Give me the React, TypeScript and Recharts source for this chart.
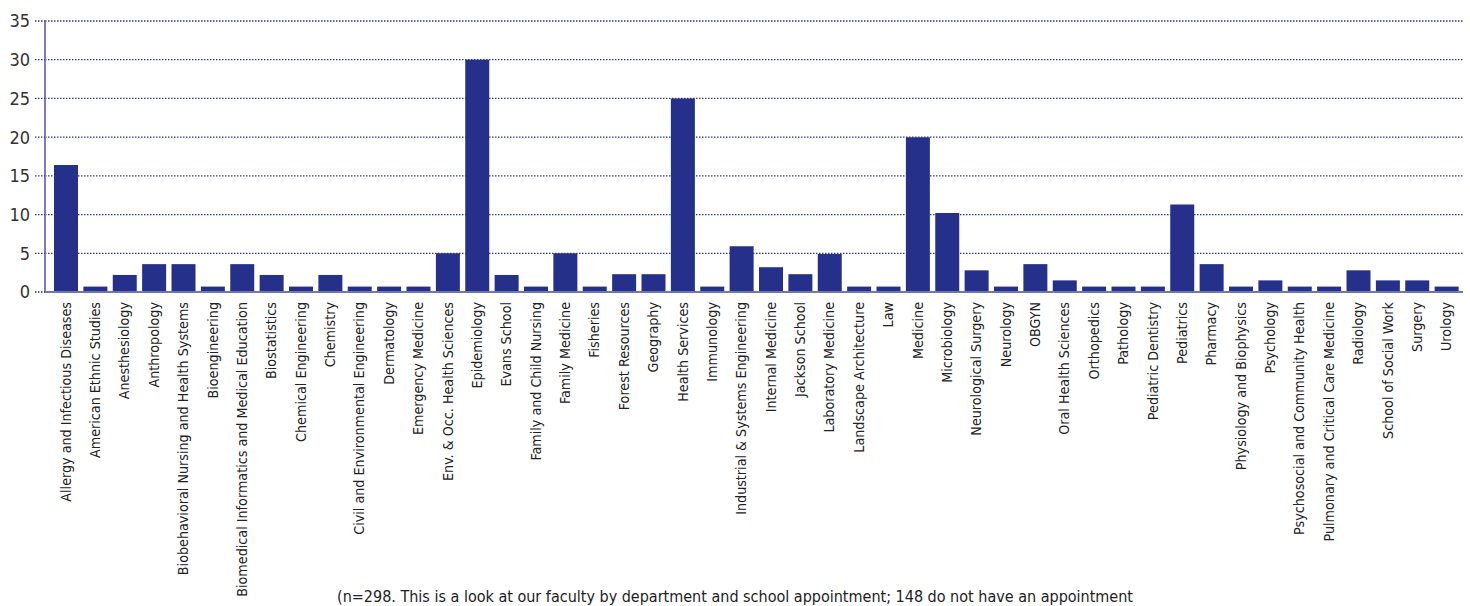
import React from "react";
import { Bar, BarChart, CartesianGrid, XAxis, YAxis } from "recharts";

const departments = [
  "Allergy and Infectious Diseases",
  "American Ethnic Studies",
  "Anesthesiology",
  "Anthropology",
  "Biobehavioral Nursing and Health Systems",
  "Bioengineering",
  "Biomedical Informatics and Medical Education",
  "Biostatistics",
  "Chemical Engineering",
  "Chemistry",
  "Civil and Environmental Engineering",
  "Dermatology",
  "Emergency Medicine",
  "Env. & Occ. Health Sciences",
  "Epidemiology",
  "Evans School",
  "Family and Child Nursing",
  "Family Medicine",
  "Fisheries",
  "Forest Resources",
  "Geography",
  "Health Services",
  "Immunology",
  "Industrial & Systems Engineering",
  "Internal Medicine",
  "Jackson School",
  "Laboratory Medicine",
  "Landscape Architecture",
  "Law",
  "Medicine",
  "Microbiology",
  "Neurological Surgery",
  "Neurology",
  "OBGYN",
  "Oral Health Sciences",
  "Orthopedics",
  "Pathology",
  "Pediatric Dentistry",
  "Pediatrics",
  "Pharmacy",
  "Physiology and Biophysics",
  "Psychology",
  "Psychosocial and Community Health",
  "Pulmonary and Critical Care Medicine",
  "Radiology",
  "School of Social Work",
  "Surgery",
  "Urology",
];

const values = [
  16.4, 0.7, 2.2, 3.6, 3.6, 0.7, 3.6, 2.2, 0.7, 2.2, 0.7, 0.7, 0.7, 5.0, 30.0, 2.2,
  0.7, 5.0, 0.7, 2.3, 2.3, 25.0, 0.7, 5.9, 3.2, 2.3, 4.9, 0.7, 0.7, 20.0, 10.2, 2.8,
  0.7, 3.6, 1.5, 0.7, 0.7, 0.7, 11.3, 3.6, 0.7, 1.5, 0.7, 0.7, 2.8, 1.5, 1.5, 0.7,
];

const yTicks = [0, 5, 10, 15, 20, 25, 30, 35];

const caption =
  "(n=298. This is a look at our faculty by department and school appointment; 148 do not have an appointment";

const data = departments.map((name, i) => ({ name, value: values[i] }));

const font = "'DejaVu Sans Condensed', 'Liberation Sans', sans-serif";

function DeptTick(props: any) {
  const { x, y, payload } = props;
  return (
    <g transform={`translate(${x},${y})`}>
      <text
        x={0}
        y={0}
        dy="0.35em"
        textAnchor="end"
        transform="rotate(-90)"
        fill="#222"
        fontSize={14.2}
        fontFamily={font}
      >
        {payload.value}
      </text>
    </g>
  );
}

export default function App() {
  return (
    <div style={{ position: "absolute", left: 0, top: 0, width: 1470, height: 606, background: "#fff", overflow: "hidden" }}>
      <BarChart
        width={1470}
        height={606}
        data={data}
        margin={{ top: 21, right: 7, bottom: 0, left: 0 }}
      >
        <CartesianGrid
          vertical={false}
          stroke="#2e3992"
          strokeDasharray="1.5 1.5"
          strokeWidth={1.3}
        />
        <XAxis
          dataKey="name"
          interval={0}
          height={314}
          padding={{ left: 6, right: 2 }}
          axisLine={{ stroke: "#6f75b5", strokeWidth: 2 }}
          tickLine={false}
          tickSize={8}
          tickMargin={2}
          tick={<DeptTick />}
        />
        <YAxis
          width={45}
          domain={[0, 35]}
          ticks={yTicks}
          interval={0}
          axisLine={{ stroke: "#7a7fb9", strokeWidth: 2 }}
          tickLine={{ stroke: "#2e3992", strokeDasharray: "1.5 1.5", strokeWidth: 1.3 }}
          tickSize={10}
          tickMargin={5}
          tick={{ fill: "#333", fontSize: 18, fontFamily: font }}
        />
        <Bar dataKey="value" fill="#24308a" barSize={24} isAnimationActive={false} />
      </BarChart>
      <div
        style={{
          position: "absolute",
          left: 0,
          width: 1470,
          top: 587,
          textAlign: "center",
          fontFamily: font,
          fontSize: 16,
          color: "#222",
          whiteSpace: "nowrap",
        }}
      >
        {caption}
      </div>
    </div>
  );
}
